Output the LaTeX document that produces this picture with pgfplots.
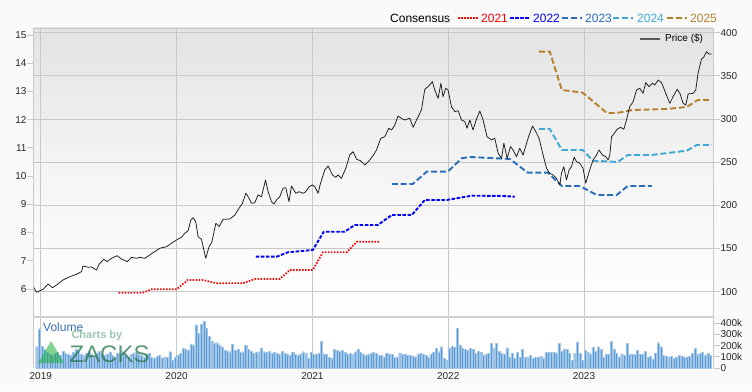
\documentclass[border=0pt]{standalone}
\usepackage{pgfplots}
\pgfplotsset{compat=1.18}
\usepackage{pgfplotstable}
\usepackage{fontspec}
\setmainfont{Liberation Sans}
\definecolor{c21}{HTML}{FF0000}
\definecolor{c22}{HTML}{0000FF}
\definecolor{c23}{HTML}{2A6EBB}
\definecolor{c24}{HTML}{3FA7D6}
\definecolor{c25}{HTML}{B5802C}
\definecolor{gridc}{HTML}{C8C8C8}
\definecolor{barc}{HTML}{5B9BD5}
\definecolor{volc}{HTML}{3B6FB6}
\definecolor{zgreen}{HTML}{2E8B57}
\definecolor{bgc}{HTML}{FAFAFA}

\pgfplotstableread{
yr p
2018.943 106.6
2018.968 99.3
2019.017 102.8
2019.054 108.9
2019.086 104.6
2019.116 107.8
2019.164 113.6
2019.214 117.4
2019.263 120.2
2019.300 123.2
2019.311 129.8
2019.348 128.3
2019.373 128.6
2019.410 125.1
2019.429 131.7
2019.464 137.5
2019.488 134.8
2019.521 138.7
2019.562 141.7
2019.594 137.9
2019.636 134.8
2019.668 139.8
2019.705 138.7
2019.729 139.8
2019.766 138.7
2019.783 140.5
2019.827 145.2
2019.876 150.3
2019.926 152.1
2019.962 156.1
2019.999 159.9
2020.036 163.0
2020.060 167.6
2020.085 170.7
2020.105 183.1
2020.122 185.7
2020.141 181.1
2020.158 163.7
2020.183 160.7
2020.215 138.7
2020.239 152.1
2020.259 157.0
2020.289 179.2
2020.314 175.5
2020.342 183.9
2020.392 184.2
2020.429 188.8
2020.460 196.6
2020.485 202.4
2020.510 214.0
2020.527 210.0
2020.552 202.4
2020.576 203.1
2020.600 212.0
2020.625 210.0
2020.655 229.4
2020.674 215.8
2020.699 204.2
2020.716 201.6
2020.740 207.0
2020.760 210.0
2020.784 219.8
2020.804 220.5
2020.828 204.2
2020.846 222.4
2020.878 214.0
2020.902 215.8
2020.932 214.0
2020.951 215.8
2020.976 221.6
2021.001 223.6
2021.018 221.6
2021.042 214.0
2021.060 225.6
2021.091 241.0
2021.116 245.6
2021.148 235.2
2021.172 232.5
2021.189 235.2
2021.214 231.4
2021.246 242.9
2021.275 258.3
2021.300 262.2
2021.325 253.4
2021.354 251.7
2021.386 246.8
2021.418 251.7
2021.447 257.5
2021.472 264.1
2021.504 277.7
2021.533 279.5
2021.563 289.3
2021.583 287.3
2021.607 293.1
2021.631 303.5
2021.656 300.8
2021.680 298.9
2021.717 300.8
2021.742 290.4
2021.767 298.9
2021.803 310.5
2021.828 334.4
2021.852 337.5
2021.884 343.2
2021.901 333.6
2021.926 324.0
2021.946 341.4
2021.962 325.9
2021.982 335.6
2021.999 333.6
2022.024 314.3
2022.049 308.5
2022.073 309.7
2022.098 298.9
2022.122 296.9
2022.139 289.3
2022.159 298.9
2022.183 287.3
2022.208 299.7
2022.233 309.3
2022.257 298.9
2022.286 279.5
2022.319 275.7
2022.343 277.7
2022.368 260.3
2022.393 254.5
2022.410 271.9
2022.434 254.5
2022.459 268.0
2022.478 264.1
2022.503 256.4
2022.527 266.1
2022.552 258.3
2022.577 271.9
2022.596 281.5
2022.621 291.9
2022.645 285.3
2022.669 277.7
2022.699 258.3
2022.724 242.9
2022.748 237.1
2022.772 235.2
2022.797 231.4
2022.822 223.6
2022.834 237.1
2022.851 244.8
2022.871 229.4
2022.890 241.0
2022.908 244.8
2022.927 255.7
2022.945 250.6
2022.969 248.7
2022.993 242.9
2023.013 225.6
2023.038 239.0
2023.067 252.5
2023.092 258.3
2023.111 264.1
2023.136 258.3
2023.161 256.4
2023.178 252.5
2023.190 258.3
2023.203 279.5
2023.214 281.5
2023.244 288.1
2023.269 290.4
2023.293 288.1
2023.313 298.9
2023.337 314.3
2023.362 320.1
2023.387 333.6
2023.411 335.6
2023.435 329.8
2023.455 342.1
2023.479 337.5
2023.504 341.4
2023.521 339.4
2023.546 345.2
2023.571 342.1
2023.602 329.8
2023.632 318.2
2023.656 325.9
2023.686 334.4
2023.706 329.8
2023.730 318.2
2023.750 316.3
2023.767 329.0
2023.804 329.8
2023.823 333.6
2023.840 353.0
2023.865 369.2
2023.882 371.5
2023.902 378.0
2023.921 375.3
2023.939 375.3
}\pricedata

\pgfplotstableread{
yr e
2019.574 5.869
2019.751 5.869
2019.817 5.989
2020.001 5.989
2020.082 6.319
2020.193 6.319
2020.296 6.202
2020.487 6.202
2020.576 6.354
2020.760 6.354
2020.834 6.673
2021.003 6.673
2021.077 7.301
2021.253 7.301
2021.327 7.676
2021.496 7.676
}\cona

\pgfplotstableread{
yr e
2020.583 7.145
2020.738 7.145
2020.819 7.301
2021.003 7.382
2021.084 8.030
2021.238 8.030
2021.312 8.268
2021.482 8.268
2021.585 8.622
2021.732 8.622
2021.828 9.154
2021.990 9.154
2022.174 9.306
2022.402 9.296
2022.490 9.271
}\conb

\pgfplotstableread{
yr e
2021.585 9.721
2021.739 9.721
2021.842 10.157
2021.997 10.157
2022.100 10.632
2022.159 10.678
2022.454 10.607
2022.586 10.121
2022.734 10.121
2022.837 9.650
2022.969 9.650
2023.094 9.331
2023.241 9.331
2023.322 9.650
2023.499 9.650
}\conc

\pgfplotstableread{
yr e
2022.667 11.670
2022.748 11.670
2022.837 10.926
2022.991 10.926
2023.065 10.546
2023.249 10.500
2023.322 10.748
2023.499 10.748
2023.757 10.901
2023.831 11.103
2023.941 11.103
}\cond

\pgfplotstableread{
yr e
2022.667 14.409
2022.748 14.409
2022.837 13.052
2022.991 12.956
2023.168 12.237
2023.241 12.237
2023.359 12.343
2023.609 12.378
2023.757 12.449
2023.838 12.697
2023.941 12.697
}\cone

\pgfplotstableread{
v
190
350
195
165
140
120
110
130
140
115
150
130
120
110
140
170
150
125
110
130
145
120
100
135
150
120
110
125
140
115
100
130
120
145
110
95
120
135
140
125
110
100
120
130
95
85
105
110
90
100
95
145
70
100
115
130
175
170
160
215
200
385
310
390
415
355
280
235
220
225
205
190
160
150
145
210
160
170
140
145
200
165
150
135
140
145
180
145
140
150
130
140
130
120
150
135
125
110
140
120
115
125
145
130
85
140
125
120
130
240
125
120
95
90
165
160
150
155
140
125
130
120
145
165
140
125
115
120
130
140
130
110
115
100
130
125
120
95
100
135
125
120
110
115
105
100
120
130
125
110
100
125
140
175
145
190
85
70
175
195
185
355
205
175
165
160
175
170
130
150
140
110
120
130
220
175
220
150
135
125
180
100
130
90
140
100
165
95
100
110
85
95
100
105
85
140
140
140
140
135
220
150
170
165
135
70
130
230
130
70
160
140
125
185
150
190
165
100
125
120
235
170
130
100
125
110
220
120
125
120
155
125
125
150
95
105
80
135
225
190
110
105
100
105
85
100
110
105
100
100
105
130
175
120
130
140
115
130
110
}\voldata

\pgfplotsset{
  base/.style={
    scale only axis, width=679pt,
    xmin=2018.95, xmax=2023.95,
    axis line style={draw=none},
    tick label style={font=\fontsize{10}{12}\selectfont, text=black!85},
    major tick length=7pt,
    tick align=outside,
    tick style={draw=gridc, line width=0.8pt},
    grid style={draw=gridc, line width=0.8pt},
  },
  price/.style={base, at={(34pt,75pt)}, anchor=south west, height=288pt},
}

\begin{document}
\begin{tikzpicture}
\path[use as bounding box] (0,0) rectangle (752pt,391pt);
\fill[bgc] (0,0) rectangle (752pt,391pt);
\shade[top color=black!11, bottom color=white, middle color=black!4] (34pt,75pt) rectangle (713pt,363pt);
\fill[white] (34pt,23pt) rectangle (713pt,74pt);

% price axis with grid and right ticks
\begin{axis}[price,
  ymin=71.85, ymax=405.4,
  xtick={2019,2020,2021,2022,2023}, xticklabels={}, xmajorgrids,
  major x tick style={draw=none},
  ytick={100,150,200,250,300,350,400},
  yticklabels={100,150,200,250,300,350,400},
  ymajorgrids, ytick pos=right,
  yticklabel style={anchor=west, xshift=-3pt},
]
\end{axis}

% consensus (left axis)
\begin{axis}[price,
  ymin=5.043, ymax=15.248,
  xtick=\empty,
  ytick={6,7,8,9,10,11,12,13,14,15},
  yticklabels={6,7,8,9,10,11,12,13,14,15},
  ytick pos=left,
  yticklabel style={anchor=east, xshift=3pt},
]
\addplot[c21, line width=1.8pt, dash pattern=on 1.5pt off 1.5pt] table[x=yr,y=e] {\cona};
\addplot[c22, line width=1.9pt, dash pattern=on 3.5pt off 1.6pt] table[x=yr,y=e] {\conb};
\addplot[c23, line width=1.9pt, dash pattern=on 6pt off 2.8pt] table[x=yr,y=e] {\conc};
\addplot[c24, line width=1.9pt, dash pattern=on 6pt off 2.8pt] table[x=yr,y=e] {\cond};
\addplot[c25, line width=1.9pt, dash pattern=on 6pt off 2.8pt] table[x=yr,y=e] {\cone};
\end{axis}

% price line
\begin{axis}[price,
  ymin=71.85, ymax=405.4,
  xtick=\empty, ytick=\empty,
]
\addplot[black!90, line width=0.75pt, line join=round] table[x=yr,y=p] {\pricedata};
\end{axis}

% volume
\begin{axis}[base, at={(34pt,23pt)}, anchor=south west, height=50pt,
  ymin=0, ymax=445,
  xtick={2019,2020,2021,2022,2023},
  xticklabels={2019,2020,2021,2022,2023},
  xmajorgrids, major x tick style={draw=none},
  xticklabel style={yshift=6pt},
  ytick={0,100,200,300,400},
  yticklabels={0,100k,200k,300k,400k},
  ytick pos=right,
  yticklabel style={anchor=west, xshift=-3pt},
]
\addplot[ybar, bar width=0.0150, fill=barc, draw=barc!55!white, line width=0.3pt]
  table[x expr=2018.97+\coordindex/52, y=v] {\voldata};
\end{axis}

% frame lines
\draw[gridc, line width=0.8pt] (33.6pt,23pt) -- (33.6pt,363pt);
\draw[gridc, line width=0.8pt] (713pt,23pt) -- (713pt,363pt);
\draw[gridc, line width=0.8pt] (34pt,363pt) -- (713pt,363pt);
\draw[gridc!85!white, line width=1.8pt] (34pt,74pt) -- (713pt,74pt);

% watermark
\fill[zgreen!70!green, opacity=0.55] (38pt,28pt) -- (51pt,50pt) -- (64pt,28pt) -- cycle;
\node[anchor=west, text=zgreen!60!white, opacity=0.8, font=\fontsize{11}{12}\selectfont\bfseries] at (68pt,55pt) {Charts by};
\node[anchor=west, text=zgreen!85!black, opacity=0.75, font=\fontsize{24}{26}\selectfont] at (66pt,37pt) {ZACKS};
\node[anchor=west, text=volc, font=\fontsize{12}{13}\selectfont, inner sep=0pt] at (43pt,64pt) {Volume};

% price legend
\draw[black!65, line width=2pt] (640pt,352pt) -- (660pt,352pt);
\node[anchor=west, inner sep=0pt, font=\fontsize{10}{12}\selectfont] at (665pt,352pt) {Price (\$)};

% consensus legend
\node[anchor=west, inner sep=0pt, font=\fontsize{12}{14}\selectfont] at (390pt,373pt) {Consensus};
\draw[c21, line width=1.8pt, dash pattern=on 1.5pt off 1.5pt] (458pt,373pt) -- (478pt,373pt);
\node[anchor=west, inner sep=0pt, text=c21, font=\fontsize{12}{14}\selectfont] at (481pt,373pt) {2021};
\draw[c22, line width=1.9pt, dash pattern=on 3.5pt off 1.6pt] (510pt,373pt) -- (530pt,373pt);
\node[anchor=west, inner sep=0pt, text=c22, font=\fontsize{12}{14}\selectfont] at (533pt,373pt) {2022};
\draw[c23, line width=1.9pt, dash pattern=on 6pt off 2.8pt] (562pt,373pt) -- (582pt,373pt);
\node[anchor=west, inner sep=0pt, text=c23, font=\fontsize{12}{14}\selectfont] at (585pt,373pt) {2023};
\draw[c24, line width=1.9pt, dash pattern=on 6pt off 2.8pt] (613pt,373pt) -- (633pt,373pt);
\node[anchor=west, inner sep=0pt, text=c24, font=\fontsize{12}{14}\selectfont] at (637pt,373pt) {2024};
\draw[c25, line width=1.9pt, dash pattern=on 6pt off 2.8pt] (667pt,373pt) -- (687pt,373pt);
\node[anchor=west, inner sep=0pt, text=c25, font=\fontsize{12}{14}\selectfont] at (690pt,373pt) {2025};
\end{tikzpicture}
\end{document}
